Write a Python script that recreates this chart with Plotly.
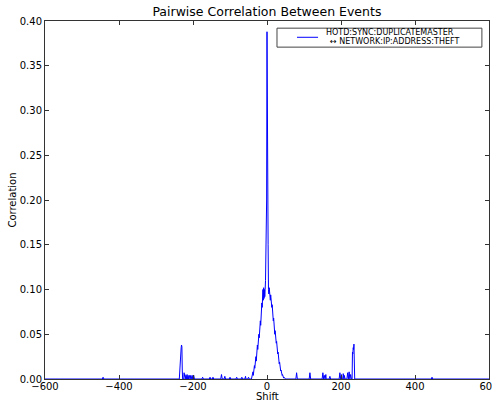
import plotly.graph_objects as go

# Shift (lag) values and correlation values
shift_left = [-600, -445, -443, -441,
              -237, -235, -233, -232, -231, -230, -229, -228,
              -225, -224, -223, -222, -221, -219, -218, -216, -215, -213, -212,
              -209, -208, -206, -205, -202, -201, -198, -197, -196,
              -176, -174, -172, -156, -154, -152, -148, -146, -144,
              -125, -123, -121, -116, -114, -112, -102, -100, -98,
              -84, -82, -80, -70, -68, -66, -60, -58, -57, -52, -50, -48]
corr_left = [0, 0, 0.002, 0,
             0, 0.022, 0.025, 0.035, 0.038, 0.036, 0.010, 0,
             0, 0.007, 0.003, 0.005, 0, 0.004, 0, 0.005, 0, 0.004, 0,
             0.004, 0, 0.004, 0, 0.004, 0, 0.004, 0, 0,
             0, 0.002, 0, 0, 0.002, 0, 0, 0.002, 0,
             0, 0.005, 0, 0, 0.003, 0, 0, 0.002, 0,
             0, 0.002, 0, 0, 0.002, 0, 0, 0.003, 0, 0, 0.002, 0]

shift_center = [-42, -40, -38, -37, -36, -35, -34, -33, -32, -31, -30, -29, -28, -27, -26,
                -25, -24, -23, -22, -21, -20, -19, -18, -17, -16, -15, -14, -13, -12,
                -11, -10, -9, -8, -7, -6, -5, -4, -3, -2, -1, 0,
                1, 2, 3, 4, 5, 6, 7, 8, 9, 10, 11, 12, 13, 14, 15, 16, 17, 18, 19, 20,
                21, 22, 23, 24, 25, 26, 27, 28, 29, 30, 31, 32, 33, 34, 35, 36, 37, 38,
                39, 40, 41, 42, 43, 44, 45, 46, 48, 50]
corr_center = [0, 0.003, 0.008, 0.004, 0.012, 0.007, 0.015, 0.012, 0.02, 0.016, 0.025,
               0.02, 0.03, 0.027, 0.038,
               0.033, 0.045, 0.04, 0.05, 0.046, 0.058, 0.055, 0.065, 0.06, 0.075, 0.07,
               0.085, 0.08, 0.095,
               0.1, 0.088, 0.102, 0.09, 0.1, 0.092, 0.1, 0.11, 0.14, 0.16, 0.2, 0.388,
               0.205, 0.17, 0.15, 0.1, 0.095, 0.102, 0.09, 0.098, 0.088, 0.094, 0.085,
               0.09, 0.08, 0.083, 0.072, 0.075, 0.065, 0.068, 0.058, 0.06,
               0.05, 0.054, 0.045, 0.047, 0.04, 0.042, 0.035, 0.037, 0.028, 0.03, 0.022,
               0.024, 0.017, 0.019, 0.013, 0.014, 0.009, 0.01,
               0.006, 0.007, 0.004, 0.005, 0.002, 0.003, 0.001, 0.002, 0, 0]

shift_right = [78, 80, 82, 114, 116, 118, 149, 151, 153, 155, 157, 159, 160, 162,
               168, 170, 172, 195, 197, 199, 201, 203, 205, 206, 208, 209, 211,
               216, 218, 220, 222, 224, 226, 228, 230, 231, 232, 233, 234, 235, 236, 237,
               444, 446, 448, 600]
corr_right = [0, 0.007, 0, 0, 0.007, 0, 0, 0.007, 0, 0.004, 0, 0.005, 0, 0,
              0, 0.003, 0, 0, 0.007, 0, 0.005, 0, 0, 0.006, 0, 0.004, 0,
              0, 0.007, 0, 0.008, 0, 0.005, 0, 0, 0.030, 0.028, 0.035, 0.033, 0.039, 0.02, 0,
              0, 0.002, 0, 0]

assert len(shift_left) == len(corr_left)
assert len(shift_center) == len(corr_center)
assert len(shift_right) == len(corr_right)

shift = shift_left + shift_center + shift_right
corr = corr_left + corr_center + corr_right

legend_line1 = "HOTD:SYNC:DUPLICATEMASTER"
legend_line2 = "\u2194 NETWORK:IP:ADDRESS:THEFT"
x_title = "Shift"
y_title = "Correlation"
x_ticks = [-600, -400, -200, 0, 200, 400, 600]
x_tick_text = ["\u2212600", "\u2212400", "\u2212200", "0", "200", "400", "600"]
y_ticks = [0.0, 0.05, 0.10, 0.15, 0.20, 0.25, 0.30, 0.35, 0.40]
y_tick_text = ["0.00", "0.05", "0.10", "0.15", "0.20", "0.25", "0.30", "0.35", "0.40"]

font_family = "DejaVu Sans"
line_color = "#0000ff"

fig = go.Figure()
fig.add_trace(go.Scatter(
    x=shift, y=corr, mode="lines", name=legend_line1 + " " + legend_line2,
    line=dict(color=line_color, width=1), showlegend=False,
))

# Legend box drawn matplotlib-style (compact two-line entry)
fig.add_shape(type="rect", xref="paper", yref="paper",
              x0=0.5225, x1=0.984, y0=0.927, y1=0.980,
              line=dict(color="#444444", width=1), fillcolor="white", layer="above")
fig.add_shape(type="line", xref="paper", yref="paper",
              x0=0.5676, x1=0.615, y0=0.9545, y1=0.9545,
              line=dict(color=line_color, width=1), layer="above")
fig.add_annotation(xref="paper", yref="paper", x=0.777, y=0.969,
                   text=legend_line1, showarrow=False, xanchor="center", yanchor="middle",
                   font=dict(size=8, family=font_family, color="black"))
fig.add_annotation(xref="paper", yref="paper", x=0.788, y=0.942,
                   text=legend_line2, showarrow=False, xanchor="center", yanchor="middle",
                   font=dict(size=8, family=font_family, color="black"))
# x-axis title placed as in the reference (just under the tick labels)
fig.add_annotation(xref="paper", yref="paper", x=0.5, y=-0.049,
                   text=x_title, showarrow=False, xanchor="center", yanchor="middle",
                   font=dict(size=10, family=font_family, color="black"))

fig.update_layout(
    width=492, height=403,
    margin=dict(l=45, r=3, t=21, b=24, autoexpand=False),
    paper_bgcolor="white", plot_bgcolor="white",
    font=dict(family=font_family, size=10, color="black"),
    title=dict(text="Pairwise Correlation Between Events", x=0.5425, xanchor="center",
               y=0.982, yanchor="top", font=dict(size=12.5, family=font_family)),
    showlegend=False,
)
fig.update_xaxes(
    range=[-600, 600], tickvals=x_ticks, ticktext=x_tick_text,
    ticks="inside", ticklen=4, tickcolor="#333333",
    showline=True, linecolor="#333333", linewidth=1, mirror="ticks",
    showgrid=False, zeroline=False, ticklabeloverflow="allow", automargin=False,
    ticklabelstandoff=-2,
    tickfont=dict(size=10),
)
fig.update_yaxes(
    range=[0, 0.40], tickvals=y_ticks, ticktext=y_tick_text,
    ticks="inside", ticklen=4, tickcolor="#333333",
    showline=True, linecolor="#333333", linewidth=1, mirror="ticks",
    showgrid=False, zeroline=False, ticklabeloverflow="allow", automargin=False,
    title=dict(text=y_title, standoff=1, font=dict(size=10)),
    tickfont=dict(size=10),
)

fig.write_html("out.html")
